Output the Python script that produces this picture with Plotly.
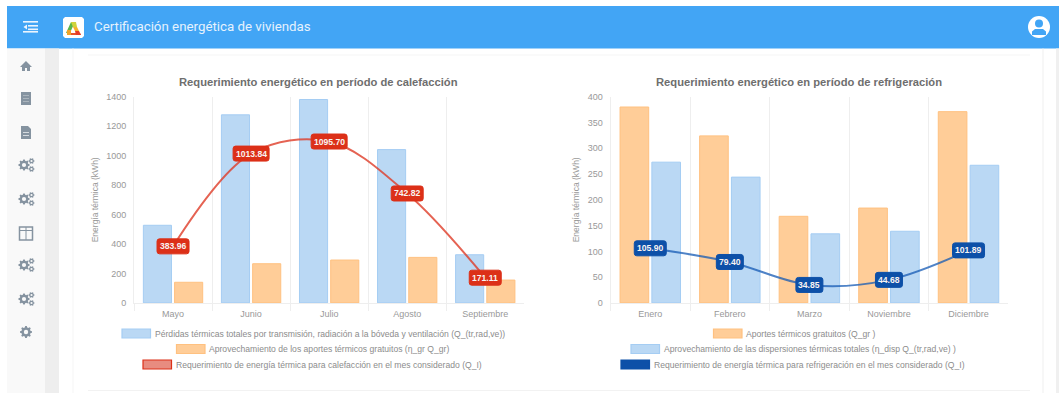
import math
import plotly.graph_objects as go

W, H = 1059, 408

# ---- data ----
months_heat = ["Mayo", "Junio", "Julio", "Agosto", "Septiembre"]
heat_losses = [527, 1277, 1381, 1041, 327]
heat_gains = [140, 266, 291, 309, 155]
heat_need = [383.96, 1013.84, 1095.70, 742.82, 171.11]

months_cool = ["Enero", "Febrero", "Marzo", "Noviembre", "Diciembre"]
cool_gains = [380, 324, 168, 184, 371]
cool_disp = [273, 244, 134, 139, 267]
cool_need = [105.90, 79.40, 34.85, 44.68, 101.89]

title_heat = "Requerimiento energético en período de calefacción"
title_cool = "Requerimiento energético en período de refrigeración"
y_title = "Energía térmica (kWh)"
app_title = "Certificación energética de viviendas"
leg_heat = ["Pérdidas térmicas totales por transmisión, radiación a la bóveda y ventilación (Q_(tr,rad,ve))",
            "Aprovechamiento de los aportes térmicos gratuitos (η_gr Q_gr)",
            "Requerimiento de energía térmica para calefacción en el mes considerado (Q_I)"]
leg_cool = ["Aportes térmicos gratuitos (Q_gr )",
            "Aprovechamiento de las dispersiones térmicas totales (η_disp Q_(tr,rad,ve) )",
            "Requerimiento de energía térmica para refrigeración en el mes considerado (Q_I)"]

BLUE_F, BLUE_L = "#bad8f4", "#a5cdf3"
ORG_F, ORG_L = "#ffcd98", "#ffc180"
RED, RED_LINE = "#dc3018", "rgba(222,60,40,0.8)"
NAVY, NAVY_LINE = "#0d50a8", "rgba(20,90,180,0.75)"
ICON = "#8593a0"
FONT = "Liberation Sans, Arial, sans-serif"


def px(x):
    return x / W


def py(y):
    return 1 - y / H


shapes, annots = [], []


def rect(x0, y0, x1, y1, fill, line=None, lw=1, layer="below"):
    shapes.append(dict(type="rect", xref="paper", yref="paper", x0=px(x0), x1=px(x1), y0=py(y0), y1=py(y1),
                       fillcolor=fill, line=dict(color=line or fill, width=lw if line else 0), layer=layer))


def poly(points, fill, line=None, lw=0, layer="above", close=True):
    d = "M" + " L".join(f"{px(a):.5f},{py(b):.5f}" for a, b in points) + (" Z" if close else "")
    shapes.append(dict(type="path", xref="paper", yref="paper", path=d, fillcolor=fill,
                       line=dict(color=line or fill, width=lw), layer=layer))


def circle(cx, cy, r, fill, line=None, lw=0, layer="above"):
    shapes.append(dict(type="circle", xref="paper", yref="paper", x0=px(cx - r), x1=px(cx + r),
                       y0=py(cy + r), y1=py(cy - r), fillcolor=fill,
                       line=dict(color=line or fill, width=lw), layer=layer))


def gear(cx, cy, ro, ri, n, hole):
    pts = []
    for i in range(n):
        a = 2 * math.pi * i / n
        s = math.pi / n * 0.55
        for ang, r in ((a - s * 1.3, ri), (a - s * 0.6, ro), (a + s * 0.6, ro), (a + s * 1.3, ri)):
            pts.append((cx + r * math.cos(ang), cy + r * math.sin(ang)))
    poly(pts, ICON)
    circle(cx, cy, hole, "#f9f9f9")


def gears(cx, cy):
    gear(cx - 3, cy, 5.6, 4.3, 8, 2.1)
    gear(cx + 4.5, cy - 4, 3.0, 2.3, 6, 1.1)
    gear(cx + 4.5, cy + 4, 3.0, 2.3, 6, 1.1)


# ---- page chrome ----
rect(7, 6, W, 48.5, "#42a5f5", layer="below")
rect(7, 48.5, 45, 393, "#f9f9f9")
rect(45, 48.5, 59, 393, "#eeeeee")
rect(72.5, 48.5, 73.5, 393, "#f5f5f5")
rect(1042.5, 48.5, 1043.5, 393, "#f0f0f0")
rect(1056, 48.5, W, 393, "#f0f0f0")
rect(88, 54.5, 1030, 55.5, "#f5f5f5")
rect(88, 390, 1030, 391, "#f2f2f2")

# menu icon
for yy, x0 in ((21, 23), (25, 28), (28.5, 28), (31, 23)):
    rect(x0, yy, 38, yy + 1.6, "#ecf5fe", layer="above")
poly([(27, 24.5), (27, 29.5), (23.5, 27)], "#ecf5fe")

# logo
poly([(65, 17), (82, 17), (84, 19), (84, 36), (82, 38), (65, 38), (63, 36), (63, 19)], "#ffffff")
poly([(66, 33), (71, 22), (74, 24), (70, 33)], "#5cb54a")
poly([(71, 22), (76, 22), (77, 27), (73, 27)], "#cfd33c")
poly([(73, 27), (77, 27), (79, 31), (75, 31)], "#f5b32e")
poly([(70, 33), (80, 33), (81, 35), (68, 35)], "#e8542e")
poly([(75, 31), (79, 31), (81, 35), (76, 35)], "#e53c2a")
poly([(67, 30), (71, 30), (71, 35), (67, 35)], "#f0a42a")

# avatar
circle(1039, 27, 11, "#ffffff")
circle(1039, 23.5, 4, "#42a5f5")
poly([(1032, 35), (1032, 31.5), (1035, 29), (1043, 29), (1046, 31.5), (1046, 35)], "#42a5f5")

# sidebar icons
cx = 26
poly([(cx - 6, 67), (cx, 61), (cx + 6, 67), (cx + 4, 67), (cx + 4, 71), (cx + 1, 71), (cx + 1, 68), (cx - 1, 68),
      (cx - 1, 71), (cx - 4, 71), (cx - 4, 67)], ICON)
rect(cx - 5, 92, cx + 5, 105, ICON, layer="above")
for yy in (95, 98, 101):
    rect(cx - 3, yy, cx + 3, yy + 1, "#aab4bc", layer="above")
poly([(cx - 5, 126), (cx + 2, 126), (cx + 5, 129), (cx + 5, 139), (cx - 5, 139)], ICON)
rect(cx - 3, 132, cx + 3, 133, "#d5dadf", layer="above")
rect(cx - 3, 135, cx + 3, 136, "#d5dadf", layer="above")
gears(cx + 1, 165)
gears(cx + 1, 199)
gears(cx + 1, 265)
gears(cx + 1, 299)
rect(cx - 6.5, 227, cx + 6.5, 240, "#f9f9f9", ICON, 1.5, layer="above")
rect(cx - 6.5, 230, cx + 6.5, 231, ICON, layer="above")
rect(cx - 0.5, 227, cx + 0.5, 240, ICON, layer="above")
gear(cx, 332, 6, 4.6, 8, 2.2)

annots.append(dict(text=app_title, xref="paper", yref="paper", x=px(92), y=py(27), xanchor="left", yanchor="middle",
                   showarrow=False, font=dict(family="Roboto", size=13.3, color="#e6f2fd")))


# ---- titles / legend ----
def ptext(text, x, y, size, color, bold=False, anchor="left", angle=0):
    annots.append(dict(text=f"<b>{text}</b>" if bold else text, xref="paper", yref="paper", x=px(x), y=py(y),
                       xanchor=anchor, yanchor="middle", showarrow=False, textangle=angle,
                       font=dict(family=FONT, size=size, color=color)))


ptext(title_heat, 318, 82.3, 11.2, "#6e6e6e", True, "center")
ptext(title_cool, 799, 82.3, 11.2, "#6e6e6e", True, "center")

for (sx, ty, fill, line, tx, label) in [
    (122, 333.5, BLUE_F, BLUE_L, 155, leg_heat[0]),
    (176.5, 349, ORG_F, ORG_L, 209, leg_heat[1]),
    (143, 364.5, "#e88c80", RED, 176, leg_heat[2]),
    (713.5, 333.5, ORG_F, ORG_L, 746, leg_cool[0]),
    (631, 349, BLUE_F, BLUE_L, 663.5, leg_cool[1]),
    (621, 364.5, NAVY, NAVY, 654, leg_cool[2]),
]:
    rect(sx, ty - 4.5, sx + 28.5, ty + 4.5, fill, line, 1.2, layer="above")
    ptext(label, tx - 2, ty, 8.6, "#8c8c8c")


# ---- value pills (anchored on data values, sized in pixels) ----
def pill(xref, yref, cat, val, color):
    text = f"{val:.2f}"
    w = 32 if len(text) == 6 else (36 if len(text) == 7 else 27)
    h, r = 15, 2.5
    a, b = w / 2, h / 2
    d = (f"M{-a + r},{-b} L{a - r},{-b} Q{a},{-b} {a},{-b + r} L{a},{b - r} Q{a},{b} {a - r},{b} "
         f"L{-a + r},{b} Q{-a},{b} {-a},{b - r} L{-a},{-b + r} Q{-a},{-b} {-a + r},{-b} Z")
    shapes.append(dict(type="path", xref=xref, yref=yref, xsizemode="pixel", ysizemode="pixel",
                       xanchor=cat, yanchor=val, path=d, fillcolor=color, line=dict(color=color, width=1),
                       layer="above"))
    annots.append(dict(text=f"<b>{text}</b>", xref=xref, yref=yref, x=cat, y=val, showarrow=False,
                       font=dict(family=FONT, size=8.6, color="#f8f3f2")))


for c, v in zip(months_heat, heat_need):
    pill("x", "y", c, v, RED)
for c, v in zip(months_cool, cool_need):
    pill("x2", "y2", c, v, NAVY)


# ---- traces ----
def bar(x, y, fill, line, name, xa, ya):
    return go.Bar(x=x, y=y, name=name, marker=dict(color=fill, line=dict(color=line, width=1)), xaxis=xa, yaxis=ya,
                  offsetgroup=name)


def spline(x, y, color, name, xa, ya):
    return go.Scatter(x=x, y=y, name=name, mode="lines", line=dict(color=color, width=2, shape="spline", smoothing=1.0),
                      xaxis=xa, yaxis=ya)


fig = go.Figure([
    bar(months_heat, heat_losses, BLUE_F, BLUE_L, leg_heat[0], "x", "y"),
    bar(months_heat, heat_gains, ORG_F, ORG_L, leg_heat[1], "x", "y"),
    spline(months_heat, heat_need, RED_LINE, leg_heat[2], "x", "y"),
    bar(months_cool, cool_gains, ORG_F, ORG_L, leg_cool[0], "x2", "y2"),
    bar(months_cool, cool_disp, BLUE_F, BLUE_L, leg_cool[1], "x2", "y2"),
    spline(months_cool, cool_need, NAVY_LINE, leg_cool[2], "x2", "y2"),
])

GRID = "#eeeeee"
xcommon = dict(type="category", tickson="boundaries", ticks="outside", ticklen=7, tickcolor=GRID, tickwidth=1,
               showgrid=True, gridcolor=GRID, gridwidth=1, showline=True, linecolor=GRID, linewidth=1,
               zeroline=False, automargin=False, ticklabelstandoff=2, range=[-0.5, 4.49],
               tickfont=dict(family=FONT, size=9, color="#999999"))
ycommon = dict(ticks="", showgrid=False, zeroline=False, showline=True, linecolor=GRID, linewidth=1,
               automargin=False, ticklabelstandoff=5, tickfont=dict(family=FONT, size=9, color="#999999"))
ytitle = dict(text=y_title, font=dict(family=FONT, size=8.5, color="#999999"), standoff=6)

fig.update_layout(
    width=W, height=H, margin=dict(l=0, r=0, t=0, b=0), paper_bgcolor="white", plot_bgcolor="white",
    showlegend=False, barmode="group", bargap=0.2, bargroupgap=0.1,
    xaxis=dict(domain=[px(134), px(523.5)], anchor="y", categoryorder="array", categoryarray=months_heat, **xcommon),
    yaxis=dict(domain=[py(302.9), py(96.7)], anchor="x", range=[0, 1400], dtick=200, title=ytitle, **ycommon),
    xaxis2=dict(domain=[px(610.5), px(1007.5)], anchor="y2", categoryorder="array", categoryarray=months_cool, **xcommon),
    yaxis2=dict(domain=[py(302.9), py(96.7)], anchor="x2", range=[0, 400], dtick=50, title=ytitle, **ycommon),
    shapes=shapes, annotations=annots, font=dict(family=FONT),
)

fig.write_html("out.html", config=dict(displayModeBar=False),
               post_script="document.body.style.margin='0';document.body.style.overflow='hidden';")
